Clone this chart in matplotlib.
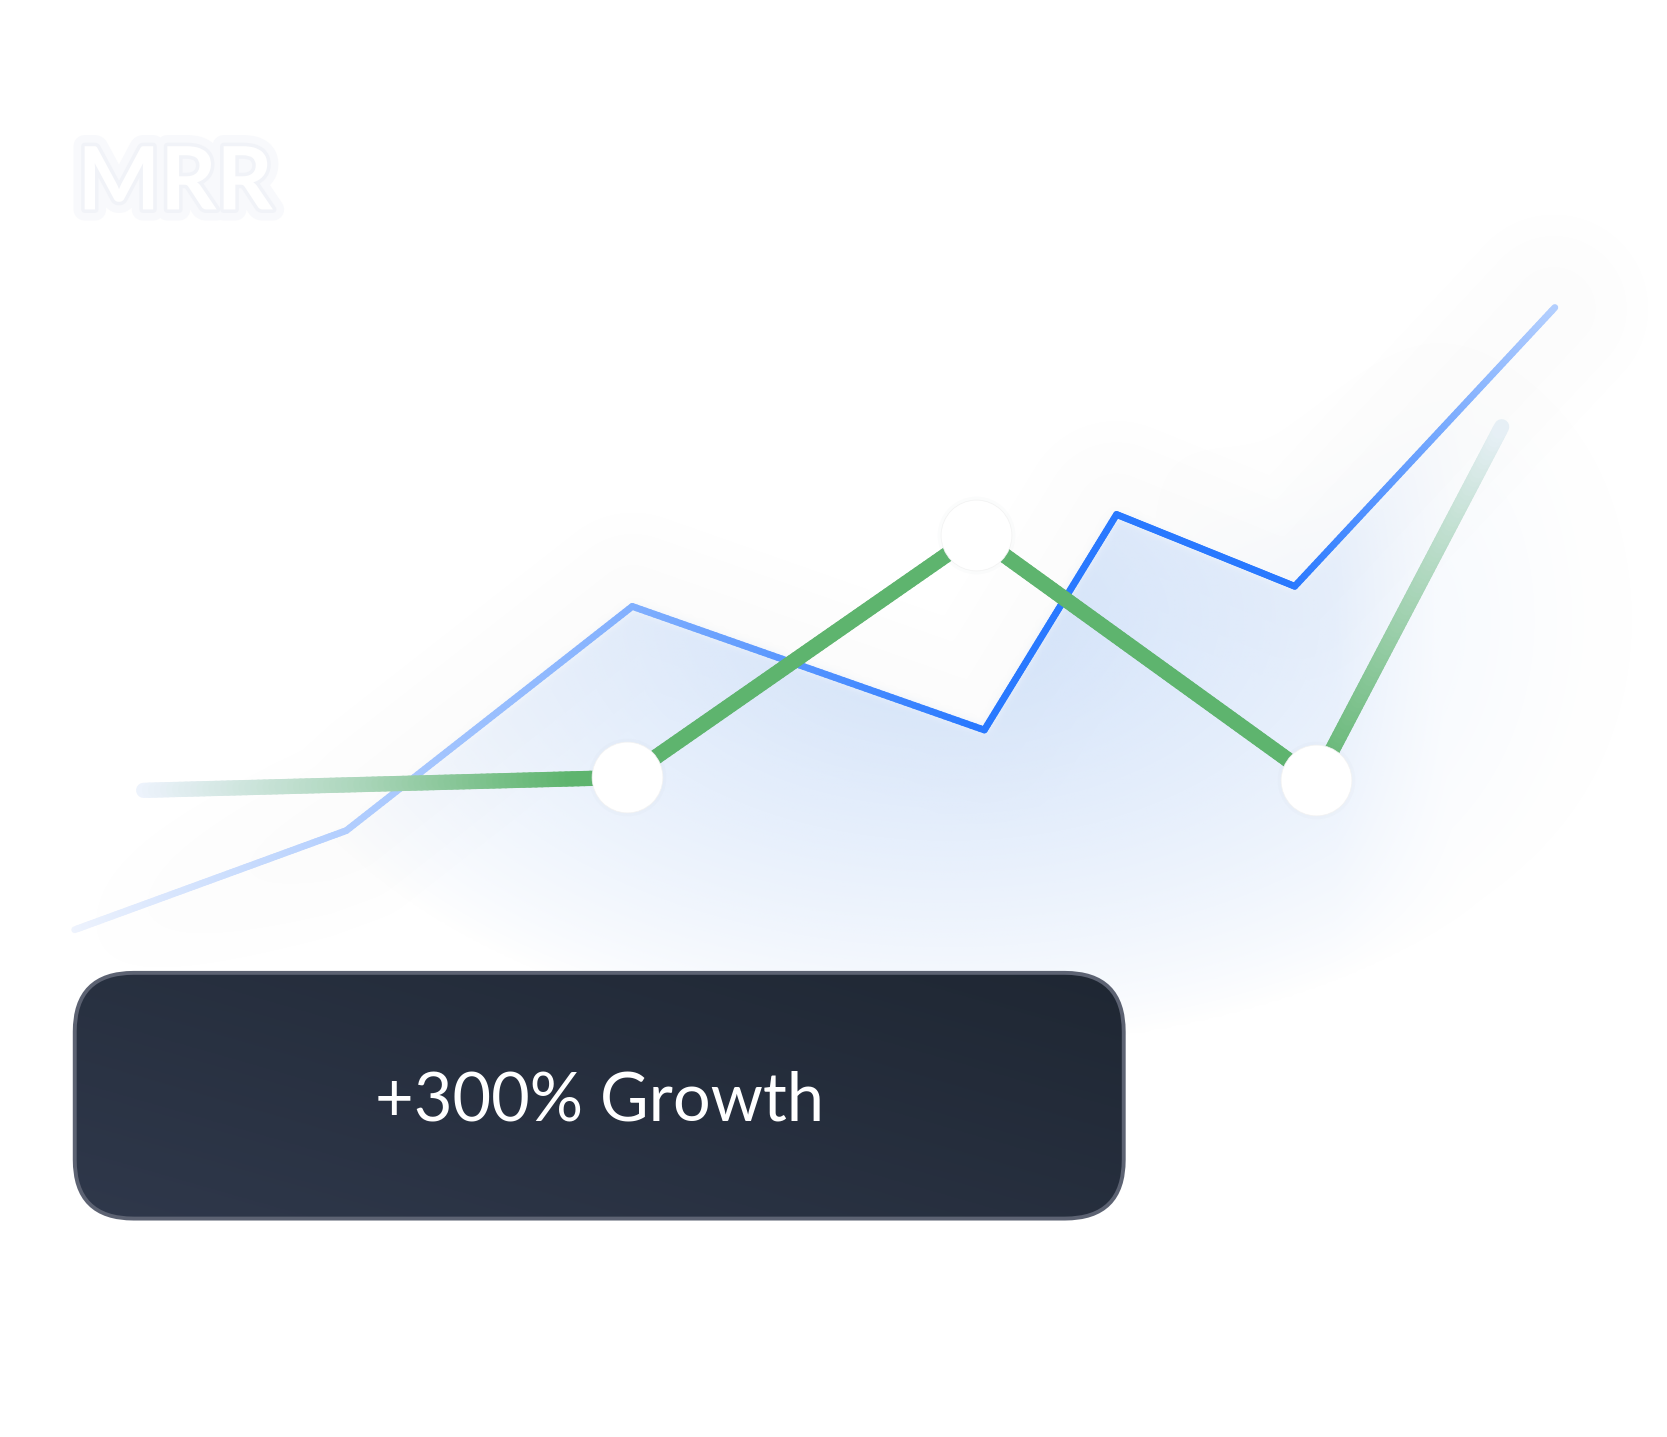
import numpy as np
import matplotlib
import matplotlib.pyplot as plt
from matplotlib.collections import LineCollection
from matplotlib.patches import FancyBboxPatch
from matplotlib.path import Path
from matplotlib.colors import to_rgb
import matplotlib.patheffects as pe

# MRR trend (x = week, y = relative MRR)
blue_x = [5.2, 24.1, 44.0, 68.5, 77.7, 90.1, 108.2]
blue_y = [35.3, 42.2, 57.8, 49.2, 64.2, 59.2, 78.6]
green_x = [10.0, 43.6, 67.9, 91.6, 104.5]
green_y = [45.0, 45.9, 62.8, 45.7, 70.3]
badge_text = "+300% Growth"
title_text = "MRR"

W, H = 1667, 1437
fig = plt.figure(figsize=(W / 100, H / 100), dpi=100)
ax = fig.add_axes([0, 0, 1, 1])
XMAX = 100 * W / H
ax.set_xlim(0, XMAX)
ax.set_ylim(0, 100)
ax.axis('off')

nx, ny = 420, 362
gx = np.linspace(0, XMAX, nx)
gy = np.linspace(0, 100, ny)
GX, GY = np.meshgrid(gx, gy)


def blur(a, r, n=3):
    for _ in range(n):
        for axis in (0, 1):
            p = np.pad(a, [(r, r) if i == axis else (0, 0) for i in range(2)], mode='edge')
            c = np.cumsum(p, axis=axis)
            c = np.insert(c, 0, 0, axis=axis)
            if axis == 0:
                a = (c[2 * r + 1:] - c[:-2 * r - 1]) / (2 * r + 1)
            else:
                a = (c[:, 2 * r + 1:] - c[:, :-2 * r - 1]) / (2 * r + 1)
    return a


def dist_to_line(xs, ys):
    d = np.full(GX.shape, 1e9)
    for i in range(len(xs) - 1):
        x0, y0, x1, y1 = xs[i], ys[i], xs[i + 1], ys[i + 1]
        dx, dy = x1 - x0, y1 - y0
        t = np.clip(((GX - x0) * dx + (GY - y0) * dy) / (dx * dx + dy * dy), 0, 1)
        d = np.minimum(d, np.hypot(GX - x0 - t * dx, GY - y0 - t * dy))
    return d


# soft grey haze around the blue line
d = dist_to_line(blue_x, blue_y)
haze = np.exp(-(d / 5.0) ** 2) * 0.022 * np.clip((GX - 3) / 20, 0, 1)
img = np.zeros((ny, nx, 4))
img[..., :3] = 0.45
img[..., 3] = haze
ax.imshow(img, extent=(0, XMAX, 0, 100), origin='lower', zorder=1, interpolation='bilinear', aspect='auto')

# blue area under the line (sharp at the line, soft below)
pts = np.column_stack([GX.ravel(), GY.ravel()])
poly = list(zip(blue_x, blue_y)) + [(blue_x[-1] + 2, 55), (blue_x[-1] - 4, 12), (blue_x[0], 12)]
inside = Path(poly).contains_points(pts).reshape(GX.shape).astype(float)
mask = blur(inside, 1, 2)
r = np.sqrt(((GX - 66) / 50) ** 2 + ((GY - 57) / 30) ** 2)
fill_a = mask * np.clip(1 - r, 0, 1) ** 0.8 * 0.9 * np.clip((105 - GX) / 12, 0, 1)
# glow spilling right of the last segment
glow = blur(inside, 14, 3)
glow_a = glow * np.clip(1 - r, 0, 1) * 0.45 * np.clip((GX - 80) / 10, 0, 1)
img2 = np.zeros((ny, nx, 4))
img2[..., :3] = to_rgb('#cddff9')
img2[..., 3] = np.maximum(fill_a, glow_a)
ax.imshow(img2, extent=(0, XMAX, 0, 100), origin='lower', zorder=2, interpolation='bilinear', aspect='auto')


def faded_line(xs, ys, color, lw, ax_pts, a_pts, z):
    pts = []
    for i in range(len(xs) - 1):
        t = np.linspace(0, 1, 80, endpoint=False)
        pts.append(np.column_stack([xs[i] + (xs[i + 1] - xs[i]) * t, ys[i] + (ys[i + 1] - ys[i]) * t]))
    pts.append([[xs[-1], ys[-1]]])
    P = np.vstack(pts)
    segs = np.stack([P[:-1], P[1:]], axis=1)
    mid = (P[:-1, 0] + P[1:, 0]) / 2
    a = np.interp(mid, ax_pts, a_pts)[:, None]
    c = np.array(to_rgb(color))[None, :]
    cols = c * a + (1 - a) * np.array(to_rgb('#eef3fd'))[None, :]
    lc = LineCollection(segs, colors=cols, linewidths=lw, capstyle='round', joinstyle='round', zorder=z)
    ax.add_collection(lc)


faded_line(blue_x, blue_y, '#2979ff', 4.9,
           [5.2, 24, 44, 60, 68, 90, 108.2], [0.0, 0.3, 0.55, 0.85, 1.0, 1.0, 0.3], 4)
faded_line(green_x, green_y, '#5eb46e', 11.0,
           [10, 25, 40, 91.6, 104.5], [0.0, 0.45, 1.0, 1.0, 0.05], 5)

# white markers
ax.plot(green_x[1:4], green_y[1:4], 'o', ms=56, mfc='#9aa3b5', mec='none', alpha=0.03, zorder=6)
ax.plot(green_x[1:4], green_y[1:4], 'o', ms=51, mfc='white', mec='#f2f2f2', mew=0.5, zorder=7)

# badge
bx0, by0, bx1, by1, rad = 5.2, 15.2, 78.2, 32.3, 4.1
box = FancyBboxPatch((bx0 + rad, by0 + rad), bx1 - bx0 - 2 * rad, by1 - by0 - 2 * rad,
                     boxstyle=f'round,pad={rad}', fc='none', ec='#5c6272', lw=2.8, zorder=9)
ax.add_patch(box)
u = np.linspace(0, 1, 200)
U, V = np.meshgrid(u, u)
g = np.clip(0.55 * (1 - U) + 0.45 * V, 0, 1)
c0 = np.array(to_rgb('#1f2733'))
c1 = np.array(to_rgb('#2f384b'))
grad = c0 * (1 - g[..., None]) + c1 * g[..., None]
im = ax.imshow(grad, extent=(bx0, bx1, by0, by1), origin='upper', zorder=8, aspect='auto')
im.set_clip_path(box)
ax.text((bx0 + bx1) / 2, (by0 + by1) / 2 - 0.4, badge_text, color='white', fontsize=48,
        family='Lato', ha='center', va='center', zorder=10)

# faint title
ax.text(5.4, 87.2, title_text, color='white', fontsize=63, family='Lato', weight='bold',
        ha='left', va='center', zorder=10,
        path_effects=[pe.withStroke(linewidth=16, foreground='#f8f9fc'),
                      pe.withStroke(linewidth=5, foreground='#f1f3f8')])

fig.savefig('out.png', dpi=100, facecolor='white')
